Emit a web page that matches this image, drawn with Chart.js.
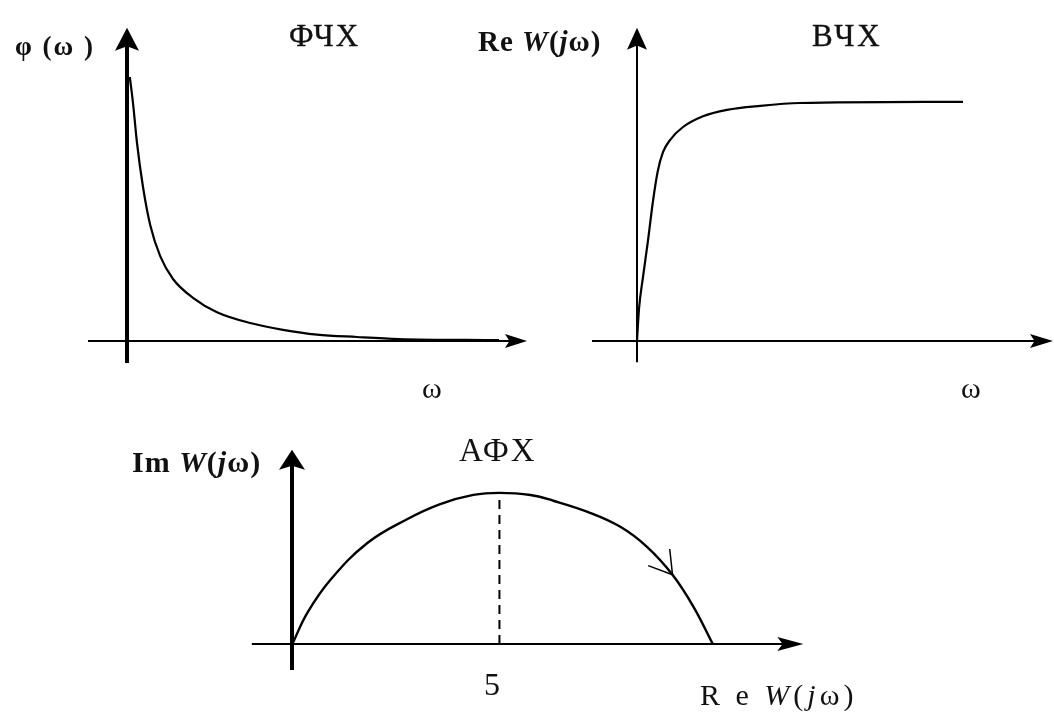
<!DOCTYPE html>
<html>
<head>
<meta charset="utf-8">
<script src="https://cdn.jsdelivr.net/npm/chart.js@4.4.1/dist/chart.umd.min.js"></script>
<style>
  html, body { margin: 0; padding: 0; background: #fff; }
  #stage { position: relative; width: 1054px; height: 721px; overflow: hidden;
           font-family: "Liberation Serif", "DejaVu Serif", serif; color: #111; }
  canvas { position: absolute; }
  .lbl { position: absolute; white-space: nowrap; line-height: 1; }
  .b { font-weight: bold; }
</style>
</head>
<body>
<div id="stage">
  <canvas id="phaseChart" style="left:87px;top:21px;width:460px;height:360px" width="460" height="360"></canvas>
  <canvas id="realChart" style="left:587px;top:21px;width:466px;height:360px" width="466" height="360"></canvas>
  <canvas id="nyqChart" style="left:251px;top:437px;width:559px;height:269px" width="559" height="269"></canvas>

  <div class="lbl b" style="left:15px;top:33px;font-size:27px;letter-spacing:2px">φ (ω )</div>
  <div class="lbl" style="left:289px;top:20px;font-size:31px;letter-spacing:2px;-webkit-text-stroke:0.4px #111">ФЧХ</div>
  <div class="lbl" style="left:422px;top:373px;font-size:30px">ω</div>

  <div class="lbl b" style="left:478px;top:27px;font-size:29px;letter-spacing:1px">Re <i>W</i>(<i>j</i>ω)</div>
  <div class="lbl" style="left:812px;top:20px;font-size:31px;letter-spacing:3px;-webkit-text-stroke:0.4px #111">ВЧХ</div>
  <div class="lbl" style="left:961px;top:373px;font-size:30px">ω</div>

  <div class="lbl b" style="left:132px;top:447px;font-size:30px;letter-spacing:1px">Im <i>W</i>(<i>j</i>ω)</div>
  <div class="lbl" style="left:459px;top:434px;font-size:33px;letter-spacing:2px">АФХ</div>
  <div class="lbl" style="left:484px;top:668px;font-size:32px">5</div>
  <div class="lbl" style="left:700px;top:680px;font-size:30px;letter-spacing:4px">R e <i>W</i>(<i>j</i>ω)</div>
</div>

<script>
// ФЧХ: φ(ω)
const phaseOmega = [0.07, 0.15, 0.25, 0.4, 0.58, 0.83, 1.15, 1.65, 2.25, 3.08, 3.9, 4.75, 5.75, 6.8, 9.3];
const phaseValue = [6.6, 5.95, 4.95, 3.85, 2.9, 2.12, 1.55, 1.08, 0.72, 0.45, 0.28, 0.16, 0.1, 0.05, 0.02];

// ВЧХ: Re W(jω)
const realOmega = [0, 0.05, 0.15, 0.28, 0.4, 0.52, 0.65, 0.83, 1.15, 1.65, 2.25, 3.08, 4.08, 8.15];
const realValue = [0, 0.8, 1.6, 2.55, 3.5, 4.25, 4.72, 5.03, 5.35, 5.62, 5.78, 5.88, 5.95, 5.98];

// АФХ: Im W(jω) против Re W(jω)
const nyqRe = [0, 0.36, 0.92, 1.81, 2.78, 3.57, 4.37, 5, 5.75, 6.3, 7.13, 7.92, 8.57, 9.18, 9.69, 10.15];
const nyqIm = [0, 0.75, 1.55, 2.44, 3.02, 3.38, 3.6, 3.65, 3.6, 3.46, 3.19, 2.83, 2.34, 1.67, 0.89, 0];
const peakRe = [5, 5];
const peakIm = [0, 3.65];
const flowArrowIndex = 13;

const toPoints = (xs, ys) => xs.map((v, i) => ({ x: v, y: ys[i] }));

// стрелка с выемкой на конце оси
function arrowHead(ctx, tx, ty, dx, dy, len, half) {
  const px = -dy, py = dx;
  const bx = tx - dx * len, by = ty - dy * len;
  ctx.beginPath();
  ctx.moveTo(tx, ty);
  ctx.lineTo(bx + px * half, by + py * half);
  ctx.lineTo(tx - dx * len * 0.8, ty - dy * len * 0.8);
  ctx.lineTo(bx - px * half, by - py * half);
  ctx.closePath();
  ctx.fill();
}

const axesPlugin = {
  id: 'axes',
  beforeDatasetsDraw(chart, args, o) {
    const { ctx, scales: { x, y } } = chart;
    const x0 = Math.round(x.getPixelForValue(0));
    const y0 = Math.round(y.getPixelForValue(0));
    ctx.save();
    ctx.strokeStyle = '#000';
    ctx.fillStyle = '#000';

    const xa = x.getPixelForValue(o.xFrom), xb = x.getPixelForValue(o.xTo);
    ctx.lineWidth = o.xWidth;
    ctx.beginPath();
    ctx.moveTo(xa, y0);
    ctx.lineTo(xb - o.xHead[0] * 0.7, y0);
    ctx.stroke();
    arrowHead(ctx, xb, y0, 1, 0, o.xHead[0], o.xHead[1]);

    const ya = y.getPixelForValue(o.yFrom), yb = y.getPixelForValue(o.yTo);
    ctx.lineWidth = o.yWidth;
    ctx.beginPath();
    ctx.moveTo(x0, ya);
    ctx.lineTo(x0, yb + o.yHead[0] * 0.7);
    ctx.stroke();
    arrowHead(ctx, x0, yb, 0, -1, o.yHead[0], o.yHead[1]);
    ctx.restore();
  },
  afterDatasetsDraw(chart, args, o) {
    if (o.flowIndex == null) return;
    const pts = chart.getDatasetMeta(0).data;
    const p = pts[o.flowIndex], a = pts[o.flowIndex - 1], b = pts[o.flowIndex + 1];
    const ang = Math.atan2(b.y - a.y, b.x - a.x) + Math.PI;
    const { ctx } = chart;
    ctx.save();
    ctx.strokeStyle = '#000';
    ctx.lineWidth = 1.5;
    ctx.beginPath();
    [-0.55, 0.55].forEach(d => {
      ctx.moveTo(p.x, p.y);
      ctx.lineTo(p.x + 26 * Math.cos(ang + d), p.y + 26 * Math.sin(ang + d));
    });
    ctx.stroke();
    ctx.restore();
  }
};

function makeChart(id, datasets, lim, axes) {
  return new Chart(document.getElementById(id), {
    type: 'scatter',
    data: { datasets },
    options: {
      responsive: false,
      animation: false,
      layout: { padding: 0 },
      plugins: { legend: { display: false }, tooltip: { enabled: false }, axes },
      scales: {
        x: { type: 'linear', display: false, min: lim[0], max: lim[1] },
        y: { type: 'linear', display: false, min: lim[2], max: lim[3] }
      }
    },
    plugins: [axesPlugin]
  });
}

const curve = (points, width, smooth) => Object.assign({
  data: points,
  showLine: true,
  borderColor: '#000',
  borderWidth: width,
  pointRadius: 0
}, smooth);

makeChart('phaseChart', [curve(toPoints(phaseOmega, phaseValue), 2.2, { cubicInterpolationMode: 'monotone' })],
  [-1, 10.5, -1, 8],
  { xFrom: -0.975, xTo: 10, yFrom: -0.55, yTo: 7.83, xWidth: 2, yWidth: 4, xHead: [22, 7], yHead: [23, 12] });

makeChart('realChart', [curve(toPoints(realOmega, realValue), 2.2, { cubicInterpolationMode: 'monotone' })],
  [-1.25, 10.4, -1, 8],
  { xFrom: -1.125, xTo: 10.4, yFrom: -0.53, yTo: 7.83, xWidth: 2, yWidth: 2, xHead: [23, 7], yHead: [22, 10] });

makeChart('nyqChart', [
    curve(toPoints(nyqRe, nyqIm), 2.4, { tension: 0.4 }),
    { data: toPoints(peakRe, peakIm), showLine: true, borderColor: '#000', borderWidth: 2,
      borderDash: [9, 6], pointRadius: 0 }
  ],
  [-1, 12.5, -1.5, 5],
  { xFrom: -0.98, xTo: 12.34, yFrom: -0.63, yTo: 4.69, xWidth: 2, yWidth: 4, xHead: [26, 7], yHead: [20, 13],
    flowIndex: flowArrowIndex });
</script>
</body>
</html>
